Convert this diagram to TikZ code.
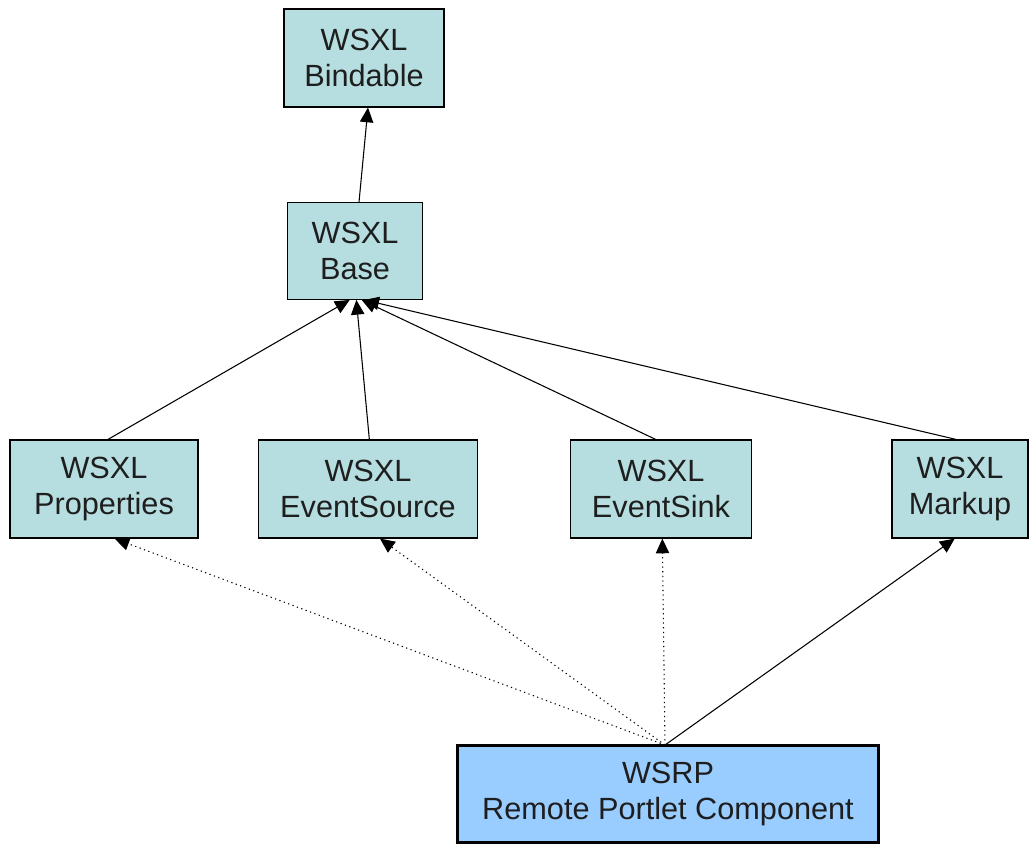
\documentclass[tikz,border=0pt]{standalone}
\usepackage{fontspec}
\setmainfont{Liberation Sans}
\usetikzlibrary{arrows.meta}
\definecolor{boxfill}{RGB}{182,222,224}
\definecolor{wsrpfill}{RGB}{153,204,255}
\definecolor{txt}{RGB}{30,30,30}
\begin{document}
\begin{tikzpicture}[x=0.75pt,y=-0.75pt,
  cls/.style={draw=black,fill=boxfill,line width=0.9pt,inner sep=0pt,align=center,
    font=\fontsize{23}{27.5}\selectfont,text=txt},
  wsrp/.style={cls,fill=wsrpfill,line width=2.2pt},
  inh/.style={line width=0.8pt,-{Triangle[length=11pt,width=10pt]}},
  dep/.style={inh,dash pattern=on 0.9pt off 2.6pt}]
\useasboundingbox (0,0) rectangle (1030,844);
\node[cls,minimum width=120pt,minimum height=73.5pt] (bind) at (364,58) {WSXL\\Bindable};
\node[cls,minimum width=101pt,minimum height=72.5pt] (base) at (355,251) {WSXL\\Base};
\node[cls,minimum width=141pt,minimum height=73.5pt] (prop) at (104,489) {WSXL\\Properties};
\node[cls,minimum width=164pt,minimum height=73.5pt] (src) at (368,489) {WSXL\\EventSource};
\node[cls,minimum width=136pt,minimum height=73.5pt] (sink) at (661,489) {WSXL\\EventSink};
\node[cls,minimum width=102pt,minimum height=73.5pt] (mark) at (960,489) {WSXL\\Markup};
\node[wsrp,minimum width=316pt,minimum height=73pt] (rp) at (668,794) {WSRP\\Remote Portlet Component};
\coordinate (rpt) at (665,745);
\draw[inh] ([xshift=3pt]base.north) -- ([xshift=3pt]bind.south);
\draw[inh] ([xshift=3pt]prop.north) -- ([xshift=-4pt]base.south);
\draw[inh] ([xshift=1pt]src.north) -- ([xshift=1pt]base.south);
\draw[inh] ([xshift=-4pt]sink.north) -- ([xshift=5pt]base.south);
\draw[inh] ([xshift=-3pt]mark.north) -- ([xshift=7pt]base.south);
\draw[dep] (rpt) -- ([xshift=8pt]prop.south);
\draw[dep] (rpt) -- ([xshift=9pt]src.south);
\draw[dep] (rpt) -- ([xshift=1pt]sink.south);
\draw[inh] (rpt) -- ([xshift=-4pt]mark.south);
\end{tikzpicture}
\end{document}
